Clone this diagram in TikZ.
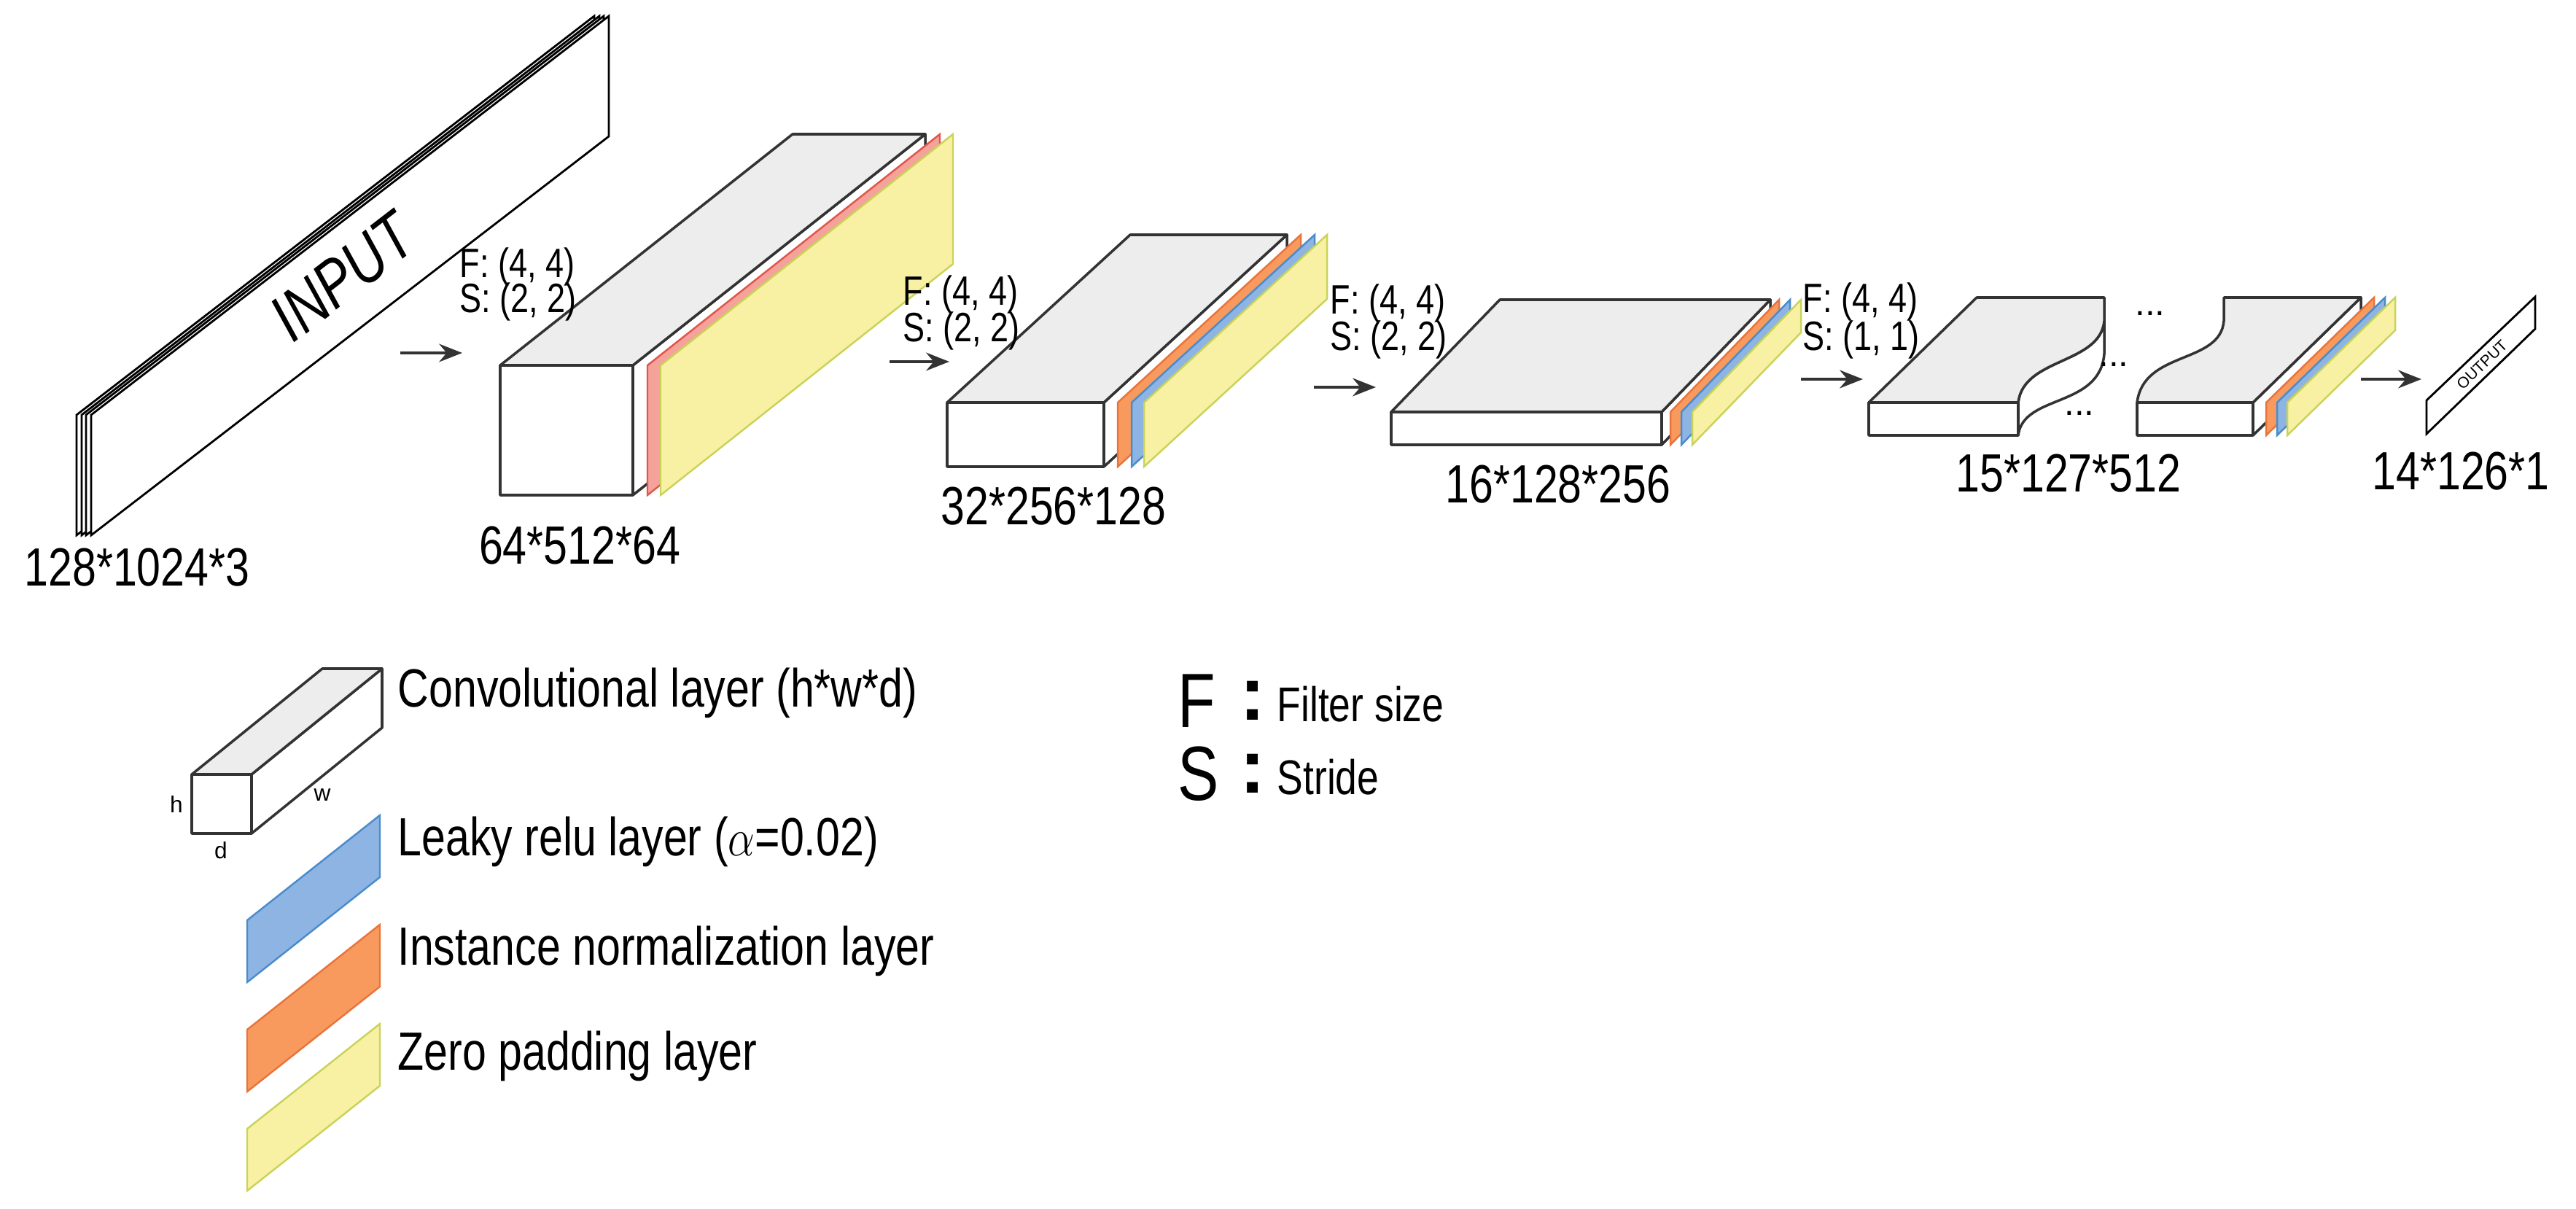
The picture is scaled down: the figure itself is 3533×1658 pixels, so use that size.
\documentclass[tikz,border=0pt]{standalone}
\usepackage{fontspec}
\setmainfont{Liberation Sans}
\usetikzlibrary{arrows.meta}
\definecolor{yelF}{HTML}{F8F1A4}\definecolor{yelD}{HTML}{C9D35A}
\definecolor{bluF}{HTML}{8DB4E2}\definecolor{bluD}{HTML}{4A8CCB}
\definecolor{oraF}{HTML}{F89A5E}\definecolor{oraD}{HTML}{E8743B}
\definecolor{redF}{HTML}{F4A29A}\definecolor{redD}{HTML}{E0564B}
\definecolor{faceG}{HTML}{EDEDED}\definecolor{edgeK}{HTML}{333333}
\newcommand{\nar}[1]{\scalebox{0.8}[1]{#1}}
\tikzset{
 face/.style={fill=faceG,draw=edgeK,line width=1pt,line join=round},
 wface/.style={fill=white,draw=edgeK,line width=1pt,line join=round},
 yel/.style={fill=yelF,draw=yelD,line width=0.7pt},
 blu/.style={fill=bluF,draw=bluD,line width=0.7pt},
 ora/.style={fill=oraF,draw=oraD,line width=0.7pt},
 red/.style={fill=redF,draw=redD,line width=0.7pt},
 sheetw/.style={fill=white,draw=black,line width=0.8pt},
 arr/.style={-{Stealth[length=9pt,width=7pt]},line width=1.4pt,draw=black!80},
 dim/.style={font=\fontsize{21}{22}\selectfont},
 fs/.style={font=\fontsize{16}{16}\selectfont,anchor=west,inner sep=0pt},
 leg/.style={font=\fontsize{21}{22}\selectfont,anchor=west,inner sep=0pt},
}
\newcommand{\rface}[6]{%
 \filldraw[wface] (#3,#2) -- ++(#5,#6) -- ++(0,{#4-#2}) -- (#3,#4) -- cycle;}
\newcommand{\tfront}[6]{%
 \filldraw[face] (#1,#2) -- ++(#5,#6) -- ++({#3-#1},0) -- (#3,#2) -- cycle;
 \filldraw[wface] (#1,#2) rectangle (#3,#4);}
\newcommand{\csheet}[6]{%
 \filldraw[#6] (#1,#3) -- (#1,#2) -- ++(#4,#5) -- ++(0,{#3-#2}) -- cycle;}
\begin{document}
\begin{tikzpicture}[x=0.01cm,y=-0.01cm]
\useasboundingbox (0,0) rectangle (3533,1658);
% input
\csheet{105}{569}{734}{710}{-547}{sheetw}
\csheet{112}{569}{734}{710}{-547}{sheetw}
\csheet{118}{569}{734}{710}{-547}{sheetw}
\csheet{125}{569}{734}{710}{-547}{sheetw}
\node[rotate=37.6,font=\fontsize{26}{28}\selectfont\itshape,inner sep=0pt] (inp) at (470,380) {\nar{INPUT}};
\node[dim] (l0) at (188,778) {\nar{128*1024*3}};
% block1
\rface{686}{501}{868}{679}{401}{-317}
\csheet{888}{501}{679}{401}{-317}{red}
\csheet{906}{501}{679}{401}{-317}{yel}
\tfront{686}{501}{868}{679}{401}{-317}
\node[dim] (l1) at (795,748) {\nar{64*512*64}};
\node[fs] (f1) at (630,366) {\nar{F: (4, 4)}};
\node[fs] (s1) at (630,414) {\nar{S: (2, 2)}};
\coordinate (a1s) at (549,484); \coordinate (a1e) at (634,484);
\draw[arr] (a1s) -- (a1e);
% block2
\rface{1299}{552}{1514}{640}{251}{-230}
\csheet{1533}{552}{640}{251}{-230}{ora}
\csheet{1552}{552}{640}{251}{-230}{blu}
\csheet{1569}{552}{640}{251}{-230}{yel}
\tfront{1299}{552}{1514}{640}{251}{-230}
\node[dim] (l2) at (1445,694) {\nar{32*256*128}};
\node[fs] (f2) at (1238,404) {\nar{F: (4, 4)}};
\node[fs] (s2) at (1238,454) {\nar{S: (2, 2)}};
\coordinate (a2s) at (1220,496); \coordinate (a2e) at (1302,496);
\draw[arr] (a2s) -- (a2e);
% block3
\rface{1908}{565}{2279}{610}{149}{-154}
\csheet{2291}{565}{610}{149}{-154}{ora}
\csheet{2306}{565}{610}{149}{-154}{blu}
\csheet{2321}{565}{610}{149}{-154}{yel}
\tfront{1908}{565}{2279}{610}{149}{-154}
\node[dim] (l3) at (2137,664) {\nar{16*128*256}};
\node[fs] (f3) at (1824,416) {\nar{F: (4, 4)}};
\node[fs] (s3) at (1824,466) {\nar{S: (2, 2)}};
\coordinate (a3s) at (1802,531); \coordinate (a3e) at (1887,531);
\draw[arr] (a3s) -- (a3e);
% block4a
\filldraw[wface] (2768,552) -- (2768,597) .. controls (2775,540) and (2880,560) .. (2886,485) -- (2886,440) .. controls (2880,500) and (2775,490) .. (2768,552) -- cycle;
\filldraw[face] (2563,552) -- (2711,408) -- (2886,408) -- (2886,440) .. controls (2880,500) and (2775,490) .. (2768,552) -- cycle;
\filldraw[wface] (2563,552) rectangle (2768,597);
% block4b
\filldraw[wface] (3090,552) -- ++(148,-144) -- ++(0,45) -- (3090,597) -- cycle;
\csheet{3108}{552}{597}{148}{-144}{ora}
\csheet{3123}{552}{597}{148}{-144}{blu}
\csheet{3137}{552}{597}{148}{-144}{yel}
\filldraw[face] (2931,552) .. controls (2940,480) and (3045,500) .. (3050,440) -- (3050,408) -- (3238,408) -- (3090,552) -- cycle;
\filldraw[wface] (2931,552) rectangle (3090,597);
\node[font=\fontsize{14}{14}\selectfont] (d1) at (2949,430) {...};
\node[font=\fontsize{14}{14}\selectfont] (d2) at (2899,500) {...};
\node[font=\fontsize{14}{14}\selectfont] (d3) at (2852,567) {...};
\node[dim] (l4) at (2837,649) {\nar{15*127*512}};
\node[fs] (f4) at (2472,414) {\nar{F: (4, 4)}};
\node[fs] (s4) at (2472,466) {\nar{S: (1, 1)}};
\coordinate (a4s) at (2470,520); \coordinate (a4e) at (2555,520);
\draw[arr] (a4s) -- (a4e);
% output
\coordinate (a5s) at (3238,520); \coordinate (a5e) at (3321,520);
\draw[arr] (a5s) -- (a5e);
\filldraw[sheetw] (3328,595) -- (3328,549) -- (3477,407) -- (3477,451) -- cycle;
\node[rotate=44,font=\fontsize{6}{6}\selectfont] (out) at (3404,500) {OUTPUT};
\node[dim] (l5) at (3375,646) {\nar{14*126*1}};
% legend
\rface{263}{1062}{345}{1143}{179}{-145}
\tfront{263}{1062}{345}{1143}{179}{-145}
\node[font=\fontsize{9}{9}\selectfont] (hh) at (242,1103) {h};
\node[font=\fontsize{9}{9}\selectfont] (ww) at (442,1090) {w};
\node[font=\fontsize{9}{9}\selectfont] (dd) at (303,1166) {d};
\csheet{339}{1262}{1347}{182}{-144}{blu}
\csheet{339}{1412}{1497}{182}{-144}{ora}
\csheet{339}{1548}{1633}{182}{-144}{yel}
\node[leg] (t1) at (545,950) {\nar{Convolutional layer (h*w*d)}};
\node[leg] (t2) at (545,1154) {\nar{Leaky relu layer ($\alpha$=0.02)}};
\node[leg] (t3) at (545,1304) {\nar{Instance normalization layer}};
\node[leg] (t4) at (545,1448) {\nar{Zero padding layer}};
\node[font=\fontsize{30}{30}\selectfont,anchor=west,inner sep=0pt] (FF) at (1615,961) {\nar{F}};
\node[font=\fontsize{30}{30}\selectfont\bfseries,anchor=west,inner sep=0pt] (c1) at (1700,961) {:};
\node[font=\fontsize{19}{19}\selectfont,anchor=west,inner sep=0pt] (t5) at (1751,966) {\nar{Filter size}};
\node[font=\fontsize{30}{30}\selectfont,anchor=west,inner sep=0pt] (SS) at (1615,1061) {\nar{S}};
\node[font=\fontsize{30}{30}\selectfont\bfseries,anchor=west,inner sep=0pt] (c2) at (1700,1061) {:};
\node[font=\fontsize{19}{19}\selectfont,anchor=west,inner sep=0pt] (t6) at (1751,1066) {\nar{Stride}};
\end{tikzpicture}
\end{document}
